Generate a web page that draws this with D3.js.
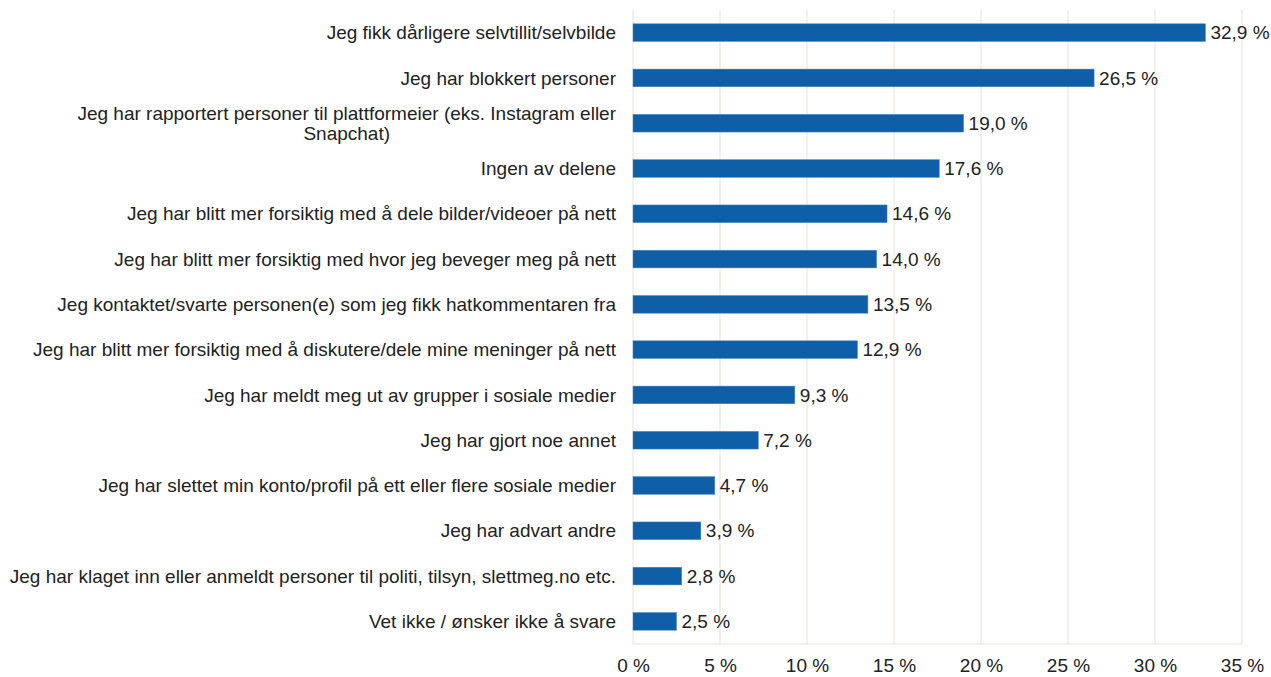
<!DOCTYPE html>
<html>
<head>
<meta charset="utf-8">
<script src="https://cdn.jsdelivr.net/npm/d3@7"></script>
<style>
body { margin: 0; background: #fff; }
svg text { font-family: "Liberation Sans", Arial, sans-serif; fill: #222; }
</style>
</head>
<body>
<svg id="chart" width="1271" height="677"></svg>
<script>
// categories, top to bottom
var categories = [
	"Jeg fikk dårligere selvtillit/selvbilde",
	"Jeg har blokkert personer",
	"Jeg har rapportert personer til plattformeier (eks. Instagram eller|Snapchat)",
	"Ingen av delene",
	"Jeg har blitt mer forsiktig med å dele bilder/videoer på nett",
	"Jeg har blitt mer forsiktig med hvor jeg beveger meg på nett",
	"Jeg kontaktet/svarte personen(e) som jeg fikk hatkommentaren fra",
	"Jeg har blitt mer forsiktig med å diskutere/dele mine meninger på nett",
	"Jeg har meldt meg ut av grupper i sosiale medier",
	"Jeg har gjort noe annet",
	"Jeg har slettet min konto/profil på ett eller flere sosiale medier",
	"Jeg har advart andre",
	"Jeg har klaget inn eller anmeldt personer til politi, tilsyn, slettmeg.no etc.",
	"Vet ikke / ønsker ikke å svare"
];
var values = [32.9, 26.5, 19.0, 17.6, 14.6, 14.0, 13.5, 12.9, 9.3, 7.2, 4.7, 3.9, 2.8, 2.5];
var ticks = [0, 5, 10, 15, 20, 25, 30, 35];

var svg = d3.select("#chart");
var plotLeft = 633, plotRight = 1242, plotTop = 10, plotBottom = 644;
var labelX = 616;
var fontSize = "19px";

var x = d3.scaleLinear().domain([0, 35]).range([plotLeft, plotRight]);
var y = d3.scaleBand().domain(d3.range(categories.length)).range([plotTop, plotBottom]).paddingInner(0.61).paddingOuter(0.305);

var fmt = function (v) { return d3.format(".1f")(v).replace(".", ",") + " %"; };

// gridlines
svg.append("g").selectAll("line.grid")
	.data(ticks)
	.enter().append("line")
	.attr("class", "grid")
	.attr("x1", function (d) { return x(d); })
	.attr("x2", function (d) { return x(d); })
	.attr("y1", plotTop)
	.attr("y2", plotBottom)
	.attr("stroke", "#e8e3d6")
	.attr("stroke-width", 1);

svg.append("line")
	.attr("x1", plotLeft).attr("x2", plotRight)
	.attr("y1", plotBottom).attr("y2", plotBottom)
	.attr("stroke", "#e8e3d6");

// x axis
var xAxis = svg.append("g")
	.attr("transform", "translate(0," + plotBottom + ")")
	.call(d3.axisBottom(x).tickValues(ticks).tickSize(0).tickPadding(15).tickFormat(function (d) { return d + " %"; }));
xAxis.select(".domain").remove();
xAxis.selectAll("text").style("font-size", fontSize).attr("fill", "#222");

// bars
svg.append("g").selectAll("rect.bar")
	.data(values)
	.enter().append("rect")
	.attr("class", "bar")
	.attr("x", x(0))
	.attr("y", function (d, i) { return y(i); })
	.attr("width", function (d) { return x(d) - x(0); })
	.attr("height", y.bandwidth())
	.attr("fill", "#0e5ea8")
	.attr("stroke", "#4a86c0")
	.attr("stroke-width", 0.5);

// value labels
svg.append("g").selectAll("text.val")
	.data(values)
	.enter().append("text")
	.attr("class", "val")
	.attr("x", function (d) { return x(d) + 5; })
	.attr("y", function (d, i) { return y(i) + y.bandwidth() / 2; })
	.attr("dy", "0.35em")
	.style("font-size", fontSize)
	.text(fmt);

// category labels
var labels = svg.append("g").selectAll("text.cat")
	.data(categories)
	.enter().append("text")
	.attr("class", "cat")
	.style("font-size", fontSize)
	.attr("text-anchor", "end")
	.attr("x", labelX)
	.attr("y", function (d, i) { return y(i) + y.bandwidth() / 2; });

labels.each(function (d) {
	var el = d3.select(this);
	var lines = d.split("|");
	if (lines.length == 1) {
		el.attr("dy", "0.35em").text(d);
		return;
	}
	var spans = el.selectAll("tspan").data(lines).enter().append("tspan")
		.attr("x", labelX)
		.attr("dy", function (l, j) { return j == 0 ? (0.35 - 0.525 * (lines.length - 1)) + "em" : "1.05em"; })
		.text(function (l) { return l; });
	var maxW = 0;
	spans.each(function () { maxW = Math.max(maxW, this.getComputedTextLength()); });
	el.attr("text-anchor", "middle");
	spans.attr("x", labelX - maxW / 2);
});
</script>
</body>
</html>
